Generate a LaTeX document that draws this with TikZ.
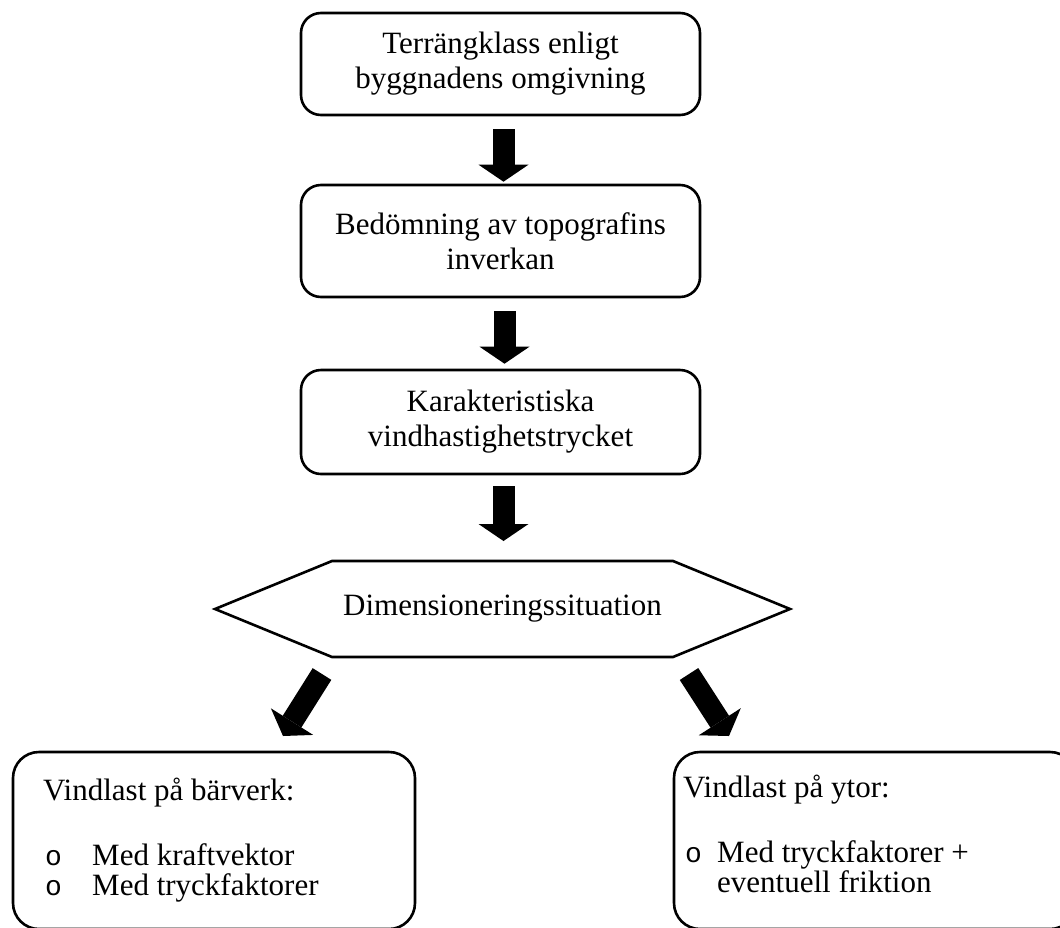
\documentclass[tikz,border=0pt]{standalone}
\usepackage{fontspec}
\setmainfont{Liberation Serif}
\setmonofont{Liberation Mono}
\usetikzlibrary{arrows.meta}
\tikzset{
  outline/.style={draw=black, line width=2.6pt},
  flowbox/.style={outline, rounded corners=20pt, minimum width=399pt, align=center,
    font=\fontsize{31}{35}\selectfont, inner sep=0pt},
  bigbox/.style={outline, rounded corners=26pt, minimum width=402pt, minimum height=177pt, inner sep=0pt},
  txt/.style={font=\fontsize{31}{35}\selectfont, inner sep=0pt, anchor=base west},
  bul/.style={font=\ttfamily\fontsize{28}{30}\selectfont, inner sep=0pt, anchor=base west},
  blockarrow/.style={line width=22pt, -{Triangle[width=50pt,length=17pt,line width=0pt]}}
}
\begin{document}
\begin{tikzpicture}[x=1pt,y=-1pt]
\useasboundingbox (0,0) rectangle (1060,927);
\clip (0,0) rectangle (1060,927);
% top boxes
\node[flowbox, minimum height=102pt] (b1) at (500.5,64) {Terrängklass enligt\\byggnadens omgivning};
\node[flowbox, minimum height=112pt] (b2) at (500.5,241) {Bedömning av topografins\\inverkan};
\node[flowbox, minimum height=104pt] (b3) at (500.5,422) {Karakteristiska\\vindhastighetstrycket};
% hexagon
\node[txt, anchor=center] (hex) at (502.5,609) {Dimensioneringssituation};
\coordinate (hextop) at (502.5,561);
\draw[outline, line join=miter] (215,609) -- (332,561) -- (673,561) -- (790,609) -- (673,657) -- (332,657) -- cycle;
% bottom boxes
\node[bigbox] (lb) at (214,840.5) {};
\node[bigbox] (rb) at (875,840.5) {};
\node[txt] (lt) at (43,800) {Vindlast på bärverk:};
\node[bul] (lo1) at (45,865) {o};
\node[txt] (lm1) at (92,865) {Med kraftvektor};
\node[bul] (lo2) at (45,895) {o};
\node[txt] (lm2) at (92,895) {Med tryckfaktorer};
\node[txt] (rt) at (683,797) {Vindlast på ytor:};
\node[bul] (ro1) at (685,862) {o};
\node[txt] (rm1) at (717,862) {Med tryckfaktorer +};
\node[txt] (rm2) at (717,892) {eventuell friktion};
% arrows
\draw[blockarrow] ([xshift=3pt,yshift=-13pt]b1.south) -- ([xshift=3pt,yshift=2pt]b2.north);
\draw[blockarrow] ([xshift=4pt,yshift=-13pt]b2.south) -- ([xshift=4pt,yshift=5pt]b3.north);
\draw[blockarrow] ([xshift=3pt,yshift=-11pt]b3.south) -- ([xshift=1pt,yshift=20pt]hextop);
\coordinate (la0) at (322,674);
\coordinate (la1) at (283,736);
\coordinate (ra0) at (689,674);
\coordinate (ra1) at (729,736);
\draw[blockarrow] (la0) -- (la1);
\draw[blockarrow] (ra0) -- (ra1);
\end{tikzpicture}
\end{document}
